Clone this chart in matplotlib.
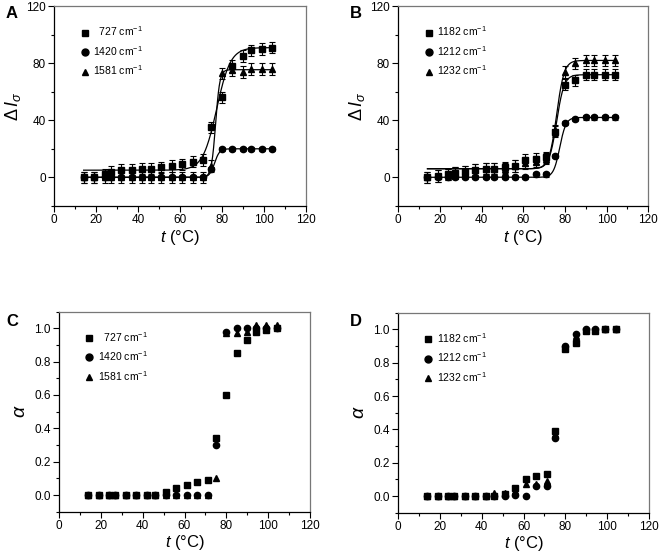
import numpy as np
import matplotlib
matplotlib.use("Agg")
import matplotlib.pyplot as plt
from matplotlib.ticker import MultipleLocator
from matplotlib.lines import Line2D

plt.rcParams['font.family'] = ['Liberation Sans', 'DejaVu Sans']
plt.rcParams['mathtext.fontset'] = 'custom'
plt.rcParams['mathtext.it'] = 'Liberation Sans:italic'
plt.rcParams['mathtext.rm'] = 'Liberation Sans'
plt.rcParams['mathtext.sf'] = 'Liberation Sans'

# ---- data ----
temps = [14, 19, 24, 27, 32, 37, 42, 46, 51, 56, 61, 66, 71, 75, 80, 85, 90, 94, 99, 104]

# Panel A: delta I_sigma
a_727 = [0, 0, 2, 4, 5, 5, 6, 6, 7, 8, 9, 11, 12, 35, 56, 78, 85, 89, 90, 91]
a_727_err = [4, 4, 4, 4, 4, 4, 4, 4, 4, 4, 4, 4, 4, 4, 4, 4, 4, 4, 4, 4]
a_1420 = [0, 0, 0, 0, 0, 0, 0, 0, 0, 0, 0, 0, 0, 6, 20, 20, 20, 20, 20, 20]
a_1420_err = [1.5, 1.5, 1.5, 1.5, 1.5, 1.5, 1.5, 1.5, 1.5, 1.5, 1.5, 1.5, 1.5, 1.5, 1.5, 1.5, 1.5, 1.5, 1.5, 1.5]
a_1581 = [0, 0, 0, 0, 0, 0, 0, 0, 0, 0, 0, 0, 0, 8, 73, 75, 74, 76, 76, 76]
a_1581_err = [4, 4, 4, 4, 4, 4, 4, 4, 4, 4, 4, 4, 4, 4, 4, 4, 4, 4, 4, 4]
# Boltzmann fit parameters (A1, A2, x0, dx) for fitted lines
a_fit_727 = (5, 91, 77.5, 3.3)
a_fit_1420 = (0, 20, 76.5, 1.2)
a_fit_1581 = (0, 75.5, 77.0, 1.0)
a_labels = ['  727 cm$^{-1}$', '1420 cm$^{-1}$', '1581 cm$^{-1}$']

# Panel B
b_1182 = [0, 1, 2, 3, 4, 5, 6, 6, 7, 8, 12, 13, 14, 32, 65, 68, 72, 72, 72, 72]
b_1182_err = [4, 4, 4, 4, 4, 4, 4, 4, 4, 4, 4, 4, 4, 4, 4, 4, 4, 4, 4, 4]
b_1212 = [0, 0, 0, 0, 0, 0, 0, 0, 0, 0, 0, 2, 2, 15, 38, 41, 42, 42, 42, 42]
b_1212_err = [1.5, 1.5, 1.5, 1.5, 1.5, 1.5, 1.5, 1.5, 1.5, 1.5, 1.5, 1.5, 1.5, 1.5, 1.5, 1.5, 1.5, 1.5, 1.5, 1.5]
b_1232 = [0, 1, 2, 3, 4, 5, 6, 6, 6, 8, 10, 11, 13, 33, 74, 80, 82, 82, 82, 82]
b_1232_err = [4, 4, 4, 4, 4, 4, 4, 4, 4, 4, 4, 4, 4, 4, 4, 4, 4, 4, 4, 4]
b_fit_1182 = (6, 72, 76.0, 1.8)
b_fit_1212 = (0, 42, 77.5, 1.5)
b_fit_1232 = (6, 82, 76.0, 1.8)
b_labels = ['1182 cm$^{-1}$', '1212 cm$^{-1}$', '1232 cm$^{-1}$']

# Panel C: alpha
c_727 = [0, 0, 0, 0, 0, 0, 0, 0, 0.02, 0.04, 0.06, 0.08, 0.09, 0.34, 0.60, 0.85, 0.93, 0.98, 0.99, 1.00]
c_1420 = [0, 0, 0, 0, 0, 0, 0, 0, 0, 0, 0, 0, 0, 0.30, 0.98, 1.00, 1.00, 1.00, 1.00, 1.00]
c_1581 = [0, 0, 0, 0, 0, 0, 0, 0, 0, 0, 0, 0, 0, 0.10, 0.97, 0.97, 0.98, 1.02, 1.02, 1.02]

# Panel D: alpha
d_1182 = [0, 0, 0, 0, 0, 0, 0, 0, 0.01, 0.05, 0.10, 0.12, 0.13, 0.39, 0.88, 0.92, 0.99, 0.99, 1.00, 1.00]
d_1212 = [0, 0, 0, 0, 0, 0, 0, 0, 0, 0.005, 0, 0.06, 0.06, 0.35, 0.90, 0.97, 1.00, 1.00, 1.00, 1.00]
d_1232 = [0, 0, 0, 0, 0, 0, 0, 0.02, 0.02, 0.03, 0.07, 0.07, 0.09, 0.37, 0.90, 0.96, 1.00, 1.00, 1.00, 1.00]

markers = ['s', 'o', '^']

fig = plt.figure(figsize=(6.61, 5.6), dpi=100)
W, H = 661, 560

def add_ax(l, r, t, b):
    return fig.add_axes([l / W, 1 - b / H, (r - l) / W, (b - t) / H])

axA = add_ax(54.3, 305.7, 6.3, 205.8)
axB = add_ax(398.3, 648.3, 6.3, 205.8)
axC = add_ax(59, 310, 311.6, 511.7)
axD = add_ax(398, 649, 312.7, 512.7)

def style(ax, ylim, ymaj, ymin, yfmt=None):
    ax.set_xlim(0, 120)
    ax.set_ylim(*ylim)
    ax.xaxis.set_major_locator(MultipleLocator(20))
    ax.xaxis.set_minor_locator(MultipleLocator(10))
    ax.yaxis.set_major_locator(MultipleLocator(ymaj))
    ax.yaxis.set_minor_locator(MultipleLocator(ymin))
    ax.tick_params(which='major', direction='out', length=4, width=0.8, labelsize=8.5, pad=2)
    ax.tick_params(which='minor', direction='out', length=2, width=0.8)
    for s in ['top', 'right']:
        ax.spines[s].set_color('#777777')
    for s in ['left', 'bottom']:
        ax.spines[s].set_color('black')
    for s in ax.spines.values():
        s.set_linewidth(0.9)
    ax.set_xlabel('$t$ (°C)', fontsize=12, labelpad=1)
    if yfmt:
        ax.yaxis.set_major_formatter(yfmt)

def boltz(x, p):
    a1, a2, x0, dx = p
    return a2 + (a1 - a2) / (1 + np.exp((x - x0) / dx))

def panel_I(ax, series, errs, fits, labels):
    xs = np.linspace(temps[0], temps[-1], 400)
    for p in fits:
        ax.plot(xs, boltz(xs, p), color='black', lw=0.9, zorder=2)
    for y, e, m in zip(series, errs, markers):
        ax.errorbar(temps, y, yerr=e, fmt=m, color='black', ms=4.5, capsize=2.2,
                    elinewidth=0.8, capthick=0.8, zorder=3)
    handles = [Line2D([], [], ls='none', marker=m, color='black', ms=5) for m in markers]
    ax.legend(handles, labels, loc='upper left', bbox_to_anchor=(0.08, 0.93), frameon=False,
              fontsize=7.5, handletextpad=0.2, labelspacing=0.55, handlelength=1.2,
              borderaxespad=0)
    style(ax, (-20, 120), 40, 20)
    ax.set_ylabel(r'$\mathit{\Delta}\,\mathit{I}_{\sigma}$', fontsize=13, labelpad=2)

def panel_alpha(ax, series, labels):
    for y, m in zip(series, markers):
        ax.plot(temps, y, ls='none', marker=m, color='black', ms=4.5)
    handles = [Line2D([], [], ls='none', marker=m, color='black', ms=5) for m in markers]
    ax.legend(handles, labels, loc='upper left', bbox_to_anchor=(0.08, 0.93), frameon=False,
              fontsize=7.5, handletextpad=0.2, labelspacing=0.55, handlelength=1.2,
              borderaxespad=0)
    style(ax, (-0.1, 1.1), 0.2, 0.1, plt.FormatStrFormatter('%.1f'))
    ax.set_ylabel(r'$\alpha$', fontsize=14, labelpad=4)

panel_I(axA, [a_727, a_1420, a_1581], [a_727_err, a_1420_err, a_1581_err],
        [a_fit_727, a_fit_1420, a_fit_1581], a_labels)
panel_I(axB, [b_1182, b_1212, b_1232], [b_1182_err, b_1212_err, b_1232_err],
        [b_fit_1182, b_fit_1212, b_fit_1232], b_labels)
panel_alpha(axC, [c_727, c_1420, c_1581], a_labels)
panel_alpha(axD, [d_1182, d_1212, d_1232], b_labels)

fig.text(6 / W, 1 - 14 / H, 'A', fontsize=12, fontweight='bold', va='center')
fig.text(350 / W, 1 - 14 / H, 'B', fontsize=12, fontweight='bold', va='center')
fig.text(6 / W, 1 - 322 / H, 'C', fontsize=12, fontweight='bold', va='center')
fig.text(350 / W, 1 - 322 / H, 'D', fontsize=12, fontweight='bold', va='center')

fig.savefig('out.png', dpi=100)
